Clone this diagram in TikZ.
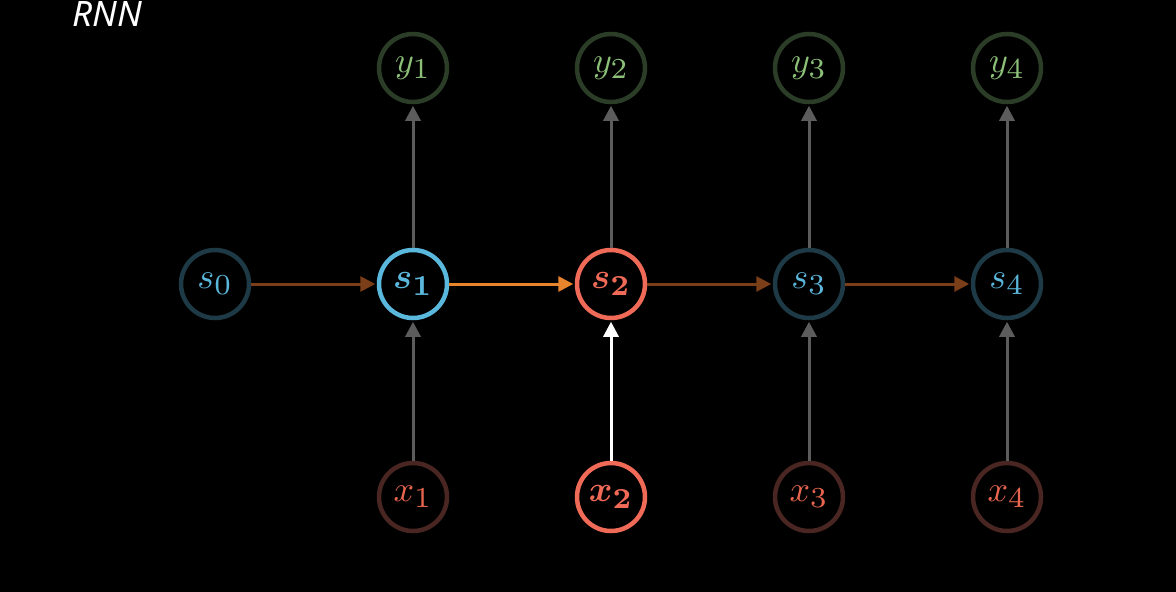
\documentclass[tikz,border=0pt]{standalone}
\usepackage{fontspec}
\usepackage{bm}
\usepackage{graphicx}
\usetikzlibrary{arrows.meta}
\newfontfamily\titlefont{Noto Sans}
\newcommand{\mlbl}[2]{\scalebox{3.6}{$#1_{\scalebox{1.15}{$\scriptstyle #2$}}$}}
\newcommand{\mlblb}[2]{\scalebox{3.6}{$\bm{#1}_{\scalebox{1.15}{$\scriptstyle\bm{#2}$}}$}}
\definecolor{bgc}{HTML}{000000}
\definecolor{sdim}{HTML}{1E3A46}
\definecolor{stext}{HTML}{5AB6DA}
\definecolor{sbright}{HTML}{5AB8DC}
\definecolor{red2}{HTML}{F06A58}
\definecolor{ydim}{HTML}{2B3C27}
\definecolor{ytext}{HTML}{8CC078}
\definecolor{xdim}{HTML}{4A2622}
\definecolor{xtext}{HTML}{E8654F}
\definecolor{brownarr}{HTML}{7A3E18}
\definecolor{orangearr}{HTML}{E8842C}
\definecolor{grayarr}{HTML}{5C5C5C}
\tikzset{
  unit/.style={circle, minimum size=68pt, inner sep=0pt, line width=4.5pt},
  snode/.style={unit, draw=sdim, text=stext},
  sact/.style={unit, draw=sbright, text=sbright},
  redn/.style={unit, draw=red2, text=red2},
  ynode/.style={unit, draw=ydim, text=ytext},
  xnode/.style={unit, draw=xdim, text=xtext},
  conn/.style={line width=3pt, -{Triangle[length=15pt,width=15pt]}, shorten >=1.5pt},
}
\begin{document}
\begin{tikzpicture}[x=1pt,y=-1pt]
\fill[bgc] (0,0) rectangle (1176,592);
\useasboundingbox (0,0) rectangle (1176,592);
\node[text=white, font=\titlefont\itshape\fontsize{35}{38}\selectfont] (title) at (107,14) {RNN};
\node[snode] (s0) at (215,284) {\mlbl{s}{0}};
\node[sact] (s1) at (413,284) {\mlblb{s}{1}};
\node[redn] (s2) at (611,284) {\mlblb{s}{2}};
\node[snode] (s3) at (809,284) {\mlbl{s}{3}};
\node[snode] (s4) at (1007,284) {\mlbl{s}{4}};
\node[ynode] (y1) at (413,68) {\mlbl{y}{1}};
\node[ynode] (y2) at (611,68) {\mlbl{y}{2}};
\node[ynode] (y3) at (809,68) {\mlbl{y}{3}};
\node[ynode] (y4) at (1007,68) {\mlbl{y}{4}};
\node[xnode] (x1) at (413,497) {\mlbl{x}{1}};
\node[redn] (x2) at (611,497) {\mlblb{x}{2}};
\node[xnode] (x3) at (809,497) {\mlbl{x}{3}};
\node[xnode] (x4) at (1007,497) {\mlbl{x}{4}};
\draw[conn, draw=brownarr, fill=brownarr] (s0) -- (s1);
\draw[conn, draw=orangearr, fill=orangearr] (s1) -- (s2);
\draw[conn, draw=brownarr, fill=brownarr] (s2) -- (s3);
\draw[conn, draw=brownarr, fill=brownarr] (s3) -- (s4);
\foreach \i in {1,2,3,4} {
  \draw[conn, draw=grayarr] (s\i) -- (y\i);
}
\draw[conn, draw=grayarr] (x1) -- (s1);
\draw[conn, draw=white] (x2) -- (s2);
\draw[conn, draw=grayarr] (x3) -- (s3);
\draw[conn, draw=grayarr] (x4) -- (s4);
\end{tikzpicture}
\end{document}
